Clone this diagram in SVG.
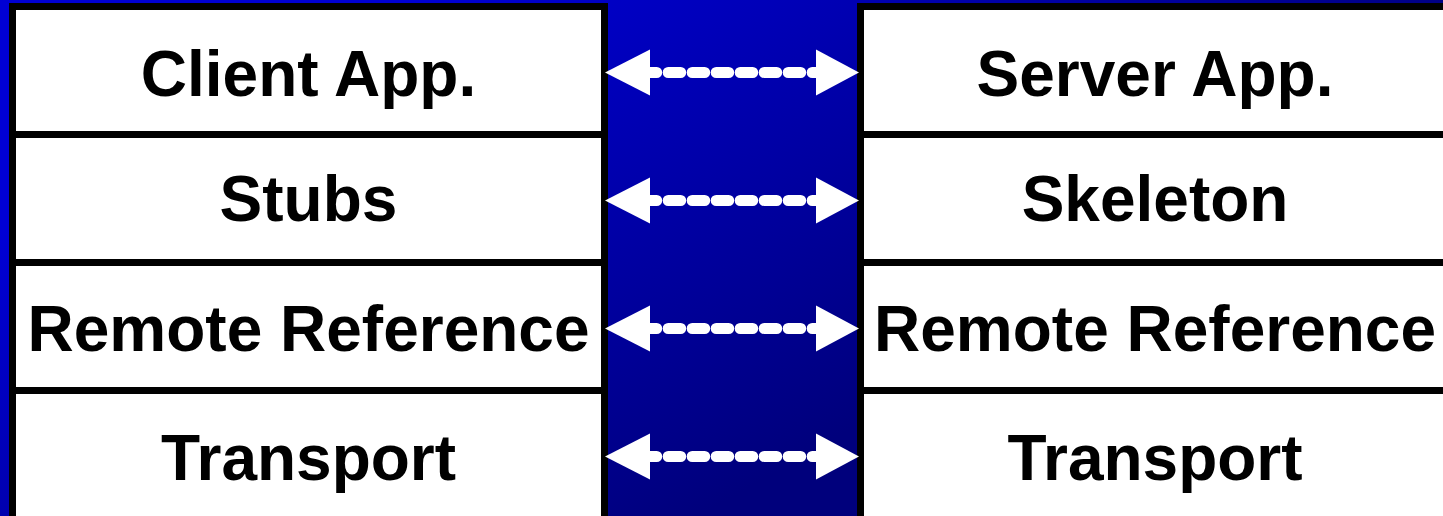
<svg xmlns="http://www.w3.org/2000/svg" width="1443" height="516" viewBox="0 0 1443 516">
<defs>
<linearGradient id="bg" gradientUnits="userSpaceOnUse" x1="400" y1="0" x2="700" y2="516">
<stop offset="0" stop-color="#0000D4"/>
<stop offset="1" stop-color="#00007C"/>
</linearGradient>
<style>
.box{fill:#fff;stroke:#000;stroke-width:7}
.lbl{font-family:"Liberation Sans",Arial,sans-serif;font-weight:bold;font-size:64px;fill:#000;text-anchor:middle}
.dash{stroke:#fff;stroke-width:11;stroke-linecap:round;stroke-dasharray:12.5 11.5;fill:none}
.head{fill:#fff}
</style>
</defs>
<rect x="0" y="0" width="1443" height="516" fill="url(#bg)"/>
<g id="client-app"><rect class="box" x="12.5" y="6.5" width="592" height="128"/><text class="lbl" x="308.5" y="96">Client App.</text></g>
<g id="stubs"><rect class="box" x="12.5" y="134.5" width="592" height="128"/><text class="lbl" x="308.5" y="221">Stubs</text></g>
<g id="client-remote-ref"><rect class="box" x="12.5" y="262.5" width="592" height="128"/><text class="lbl" x="308.5" y="351">Remote Reference</text></g>
<g id="client-transport"><rect class="box" x="12.5" y="390.5" width="592" height="135"/><text class="lbl" x="308.5" y="480">Transport</text></g>
<g id="server-app"><rect class="box" x="860.5" y="6.5" width="592" height="128"/><text class="lbl" x="1155" y="96">Server App.</text></g>
<g id="skeleton"><rect class="box" x="860.5" y="134.5" width="592" height="128"/><text class="lbl" x="1155" y="221">Skeleton</text></g>
<g id="server-remote-ref"><rect class="box" x="860.5" y="262.5" width="592" height="128"/><text class="lbl" x="1155" y="351">Remote Reference</text></g>
<g id="server-transport"><rect class="box" x="860.5" y="390.5" width="592" height="135"/><text class="lbl" x="1155" y="480">Transport</text></g>
<g id="connectors">
<g transform="translate(0,72.5)">
<line class="dash" x1="644.2" y1="0" x2="830" y2="0"/>
<polygon class="head" points="605,0 650,-23 650,23"/>
<polygon class="head" points="859,0 816,-23 816,23"/>
</g>
<g transform="translate(0,200.5)">
<line class="dash" x1="644.2" y1="0" x2="830" y2="0"/>
<polygon class="head" points="605,0 650,-23 650,23"/>
<polygon class="head" points="859,0 816,-23 816,23"/>
</g>
<g transform="translate(0,328.5)">
<line class="dash" x1="644.2" y1="0" x2="830" y2="0"/>
<polygon class="head" points="605,0 650,-23 650,23"/>
<polygon class="head" points="859,0 816,-23 816,23"/>
</g>
<g transform="translate(0,456.5)">
<line class="dash" x1="644.2" y1="0" x2="830" y2="0"/>
<polygon class="head" points="605,0 650,-23 650,23"/>
<polygon class="head" points="859,0 816,-23 816,23"/>
</g>
</g>
</svg>
